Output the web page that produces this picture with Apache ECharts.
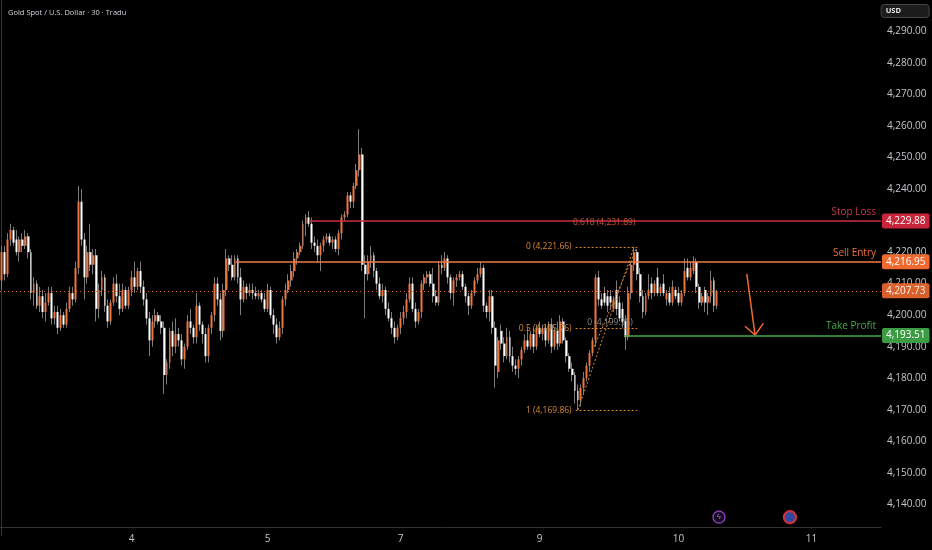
<!DOCTYPE html>
<html>
<head>
<meta charset="utf-8">
<title>Gold Spot / U.S. Dollar · 30 · Tradu</title>
<script src="https://cdn.jsdelivr.net/npm/echarts@6/dist/echarts.min.js"></script>
<style>
  html, body { margin: 0; padding: 0; background: #000; }
  #chart { width: 932px; height: 550px; }
</style>
</head>
<body>
<div id="chart"></div>
<script>
var FONT = '"Open Sans", "Liberation Sans", sans-serif';

// horizontal slots (one per 30 min bar, incl. empty space on the right)
var SLOTS = 298;
var priceMin = 4130, priceMax = 4300, priceStep = 10;

var dayTickSlots = [44, 90, 135, 182, 229, 274];
var dayTickLabels = ['4', '5', '7', '9', '10', '11'];

// candles: [open, close, low, high]
var session3 = [
	[4211,4220,4208,4222],[4220,4213,4211,4222],[4213,4224,4212,4226],[4224,4227,4222,4229],
	[4227,4223,4222,4228],[4224,4220,4219,4227],[4220,4224,4217,4225],[4224,4222,4220,4226],
	[4222,4225,4221,4227],[4225,4220,4218,4226],[4220,4207,4205,4221],[4207,4210,4203,4212],
	[4210,4203,4202,4211],[4203,4206,4201,4209],[4206,4201,4199,4208],[4201,4204,4198,4207],
	[4204,4207,4203,4209],[4207,4199,4197,4209],[4199,4201,4197,4203],[4201,4196,4194,4203],
	[4196,4200,4195,4202],[4200,4197,4196,4201],[4197,4202,4196,4204],[4202,4207,4201,4209],
	[4207,4205,4203,4209],[4205,4215,4204,4217],[4215,4236,4213,4241],[4236,4224,4222,4240],
	[4224,4212,4205,4226],[4212,4220,4210,4222],[4220,4216,4214,4229],[4216,4219,4213,4221],
	[4219,4202,4198,4221],[4202,4208,4199,4210],[4208,4212,4206,4214],[4212,4203,4201,4213],
	[4203,4198,4196,4205],[4198,4204,4197,4205],[4204,4210,4203,4212],[4210,4206,4204,4213],
	[4206,4202,4200,4210],[4202,4208,4201,4210],[4208,4203,4202,4209],[4203,4208,4202,4209]
];
var session4 = [
	[4208,4212,4206,4214],[4212,4209,4207,4217],[4209,4214,4208,4215],[4214,4209,4207,4217],
	[4209,4205,4203,4211],[4205,4199,4197,4207],[4199,4192,4187,4201],[4192,4198,4190,4200],
	[4198,4200,4196,4202],[4200,4198,4197,4201],[4198,4196,4194,4200],[4196,4181,4175,4198],
	[4181,4185,4178,4186],[4185,4195,4183,4196],[4195,4190,4187,4198],[4190,4194,4188,4199],
	[4194,4192,4190,4196],[4192,4186,4184,4194],[4186,4190,4183,4191],[4190,4198,4189,4200],
	[4198,4196,4194,4202],[4196,4193,4191,4197],[4193,4203,4191,4207],[4203,4197,4195,4204],
	[4197,4194,4191,4198],[4194,4187,4185,4196],[4187,4196,4185,4197],[4196,4200,4194,4201],
	[4200,4210,4198,4212],[4210,4205,4203,4212],[4205,4195,4192,4207],[4195,4208,4193,4210],
	[4208,4218,4206,4221],[4218,4216,4214,4219],[4216,4212,4211,4219],[4212,4218,4211,4219],
	[4218,4212,4210,4219],[4212,4205,4200,4215],[4205,4209,4204,4211],[4209,4207,4205,4210],
	[4207,4208,4206,4210],[4208,4207,4205,4210],[4207,4206,4205,4209],[4206,4207,4205,4208],
	[4207,4205,4204,4208],[4205,4202,4201,4207]
];
var session5 = [
	[4202,4208,4201,4210],[4208,4200,4199,4209],[4200,4197,4194,4202],[4197,4193,4191,4199],
	[4193,4196,4192,4198],[4196,4205,4194,4206],[4205,4208,4203,4210],[4208,4211,4207,4213],
	[4211,4214,4209,4216],[4214,4218,4212,4220],[4218,4220,4216,4221],[4220,4222,4219,4223],
	[4222,4229,4221,4230],[4229,4231,4225,4232],[4231,4229,4228,4233],[4229,4223,4221,4231],
	[4223,4222,4220,4225],[4222,4219,4217,4224],[4219,4222,4214,4223],[4222,4224,4220,4225],
	[4224,4225,4223,4226],[4225,4223,4222,4226],[4223,4224,4221,4225],[4224,4221,4220,4225],
	[4221,4226,4219,4227],[4226,4231,4224,4232],[4231,4232,4230,4233],[4232,4238,4231,4239],
	[4238,4236,4234,4239],[4236,4241,4234,4242],[4241,4246,4240,4248],[4246,4251,4244,4259],
	[4251,4216,4214,4253],[4216,4213,4199,4219],[4213,4217,4211,4219],[4217,4219,4215,4222],
	[4219,4214,4212,4220],[4214,4210,4208,4215],[4210,4206,4205,4212],[4206,4208,4204,4210],
	[4208,4202,4200,4209],[4202,4199,4198,4204],[4199,4196,4194,4201],[4196,4193,4191,4198],
	[4193,4196,4192,4197]
];
var session7 = [
	[4196,4199,4194,4201],[4199,4201,4197,4203],[4201,4205,4199,4207],[4205,4210,4204,4212],
	[4210,4202,4201,4212],[4202,4198,4196,4204],[4198,4201,4197,4202],[4201,4210,4199,4211],
	[4210,4212,4208,4213],[4212,4213,4210,4214],[4213,4210,4209,4214],[4210,4206,4204,4215],
	[4206,4204,4203,4208],[4204,4216,4203,4217],[4216,4215,4213,4219],[4215,4218,4214,4220],
	[4218,4212,4210,4219],[4212,4207,4205,4213],[4207,4211,4203,4212],[4211,4212,4209,4213],
	[4212,4213,4211,4214],[4213,4209,4208,4214],[4209,4206,4204,4210],[4206,4203,4200,4207],
	[4203,4207,4202,4208],[4207,4211,4206,4212],[4211,4213,4210,4215],[4213,4215,4212,4217],
	[4215,4203,4201,4216],[4203,4201,4199,4204],[4201,4206,4198,4208],[4206,4196,4194,4208],
	[4196,4184,4177,4198],[4182,4192,4180,4193],[4195,4191,4189,4197],[4191,4187,4185,4193],
	[4187,4193,4186,4196],[4193,4187,4185,4195],[4187,4184,4182,4190],[4184,4183,4181,4186],
	[4183,4186,4180,4187],[4186,4189,4184,4190],[4189,4192,4188,4194],[4192,4190,4189,4196],
	[4190,4194,4189,4195],[4194,4190,4188,4196],[4190,4196,4189,4197]
];
var session9 = [
	[4196,4194,4193,4198],[4194,4196,4192,4197],[4196,4192,4190,4197],[4192,4197,4191,4198],
	[4197,4190,4188,4199],[4190,4195,4189,4196],[4195,4191,4189,4198],[4191,4198,4190,4200],
	[4198,4192,4191,4199],[4192,4187,4185,4193],[4187,4183,4182,4188],[4183,4181,4179,4185],
	[4181,4176,4172,4182],[4176,4173,4169.86,4178],[4173,4177,4171,4178],[4177,4180,4175,4182],
	[4180,4184,4179,4185],[4184,4188,4182,4189],[4188,4192,4187,4193],[4192,4212,4190,4213],
	[4212,4205,4203,4214],[4205,4203,4202,4207],[4207,4204,4203,4209],[4206,4203,4201,4208],
	[4206,4204,4202,4208],[4202,4205,4201,4206],[4208,4202,4200,4211],[4204,4199,4198,4206],
	[4202,4198,4196,4204],[4198,4193,4189,4200],[4193,4207,4192,4209],[4207,4216,4205,4217],
	[4216,4220,4214,4221.66],[4220,4213,4211,4221],[4213,4206,4204,4215],[4206,4201,4199,4208],
	[4201,4206,4200,4207],[4206,4208,4205,4213],[4210,4207,4205,4212],[4207,4210,4206,4211],
	[4212,4207,4206,4215],[4207,4209,4206,4210],[4210,4207,4206,4213],[4205,4207,4203,4208],
	[4207,4204,4203,4209],[4204,4209,4203,4211],[4208,4206,4205,4209]
];
var session10 = [
	[4207,4204,4203,4209],[4204,4207,4203,4208],[4207,4214,4206,4218],[4215,4212,4211,4218],
	[4212,4215,4211,4217],[4214,4217,4213,4218.6],[4217,4209,4207,4218],[4209,4204,4202,4210],
	[4204,4206,4203,4207],[4208,4204,4201,4209],[4204,4206,4200,4207],[4206,4211,4204,4214],
	[4211,4203,4201,4212],[4203,4207.73,4202,4208]
];

// trade levels and where their lines start
var stopLoss = 4229.88, sellEntry = 4216.95, lastPrice = 4207.73, takeProfit = 4193.51;
var stopLossFrom = 104, sellEntryFrom = 79.3, takeProfitFrom = 210.9;

// fib retracement drawing
var fibFrom = 194.2, fibTo = 215;
var fibLevels = [4221.66, 4195.76, 4169.86];
var fibTexts = ['0 (4,221.66)', '0.5 (4,195.76)', '1 (4,169.86)'];
var fibLow = [195, 4169.86], fibHigh = [214, 4221.66];
var fibInner = [200.5, 4190];

// arrow pointing down to take profit
var arrowTail = [252.1, 4213.1], arrowTip = [254.9, 4193.7];
var arrowLeft = [251.5, 4196.5], arrowRight = [257.7, 4197.4];

// event markers near the bottom
var eventSlots = [242.7, 266.7], eventPrice = 4135.9;

var candles = [].concat(session3, session4, session5, session7, session9, session10);

function money( v ) {
	var s = v.toFixed( 2 ).split( '.' );
	return s[0].replace( /\B(?=(\d{3})+(?!\d))/g, ',' ) + '.' + s[1];
}

function tag( bg ) {
	return {
		show: true, position: 'end', distance: 1,
		formatter: function ( p ) { return money( p.value ); },
		color: '#ffffff', backgroundColor: bg, borderRadius: 2,
		padding: [3, 4, 2, 4], fontSize: 10, fontFamily: FONT
	};
}

function caption( text, color ) {
	return { show: true, position: 'insideEndTop', distance: [5, 4], formatter: text, color: color, fontSize: 10, fontFamily: FONT };
}

// wicks are drawn as a separate gray layer under the bodies
var wickData = candles.map( function ( c, i ) { return [i, c[0], c[0], c[2], c[3]]; } );
var bodyData = candles.map( function ( c, i ) {
	return [i, c[0], c[1], Math.min( c[0], c[1] ), Math.max( c[0], c[1] )];
} );

var fibOrange = '#d9892f';
var hidden = { color: 'rgba(0,0,0,0)', width: 0.1, type: 'solid' };
var lines = [
	// stop loss / entry / take profit segments with captions
	[{ coord: [stopLossFrom, stopLoss], lineStyle: { color: '#cf2c42', width: 1.5, type: 'solid' }, label: caption( 'Stop Loss', '#c83a4e' ) },
	 { coord: [SLOTS - 0.5, stopLoss] }],
	[{ coord: [sellEntryFrom, sellEntry], lineStyle: { color: '#f07848', width: 1.5, type: 'solid' }, label: caption( 'Sell Entry', '#ec7040' ) },
	 { coord: [SLOTS - 0.5, sellEntry] }],
	[{ coord: [takeProfitFrom, takeProfit], lineStyle: { color: '#43a64b', width: 1.5, type: 'solid' }, label: caption( 'Take Profit', '#46a84e' ) },
	 { coord: [SLOTS - 0.5, takeProfit] }],
	// last price dotted line
	{ yAxis: lastPrice, lineStyle: { color: '#e8703a', width: 1, type: [1, 3], opacity: 0.9 }, label: tag( '#f06a30' ) },
	// price tags on the scale
	{ yAxis: stopLoss, lineStyle: hidden, label: tag( '#c8243a' ) },
	{ yAxis: sellEntry, lineStyle: hidden, label: tag( '#f06a30' ) },
	{ yAxis: takeProfit, lineStyle: hidden, label: tag( '#3c9c44' ) },
	// fib diagonals
	[{ coord: fibLow, lineStyle: { color: fibOrange, width: 1, type: [2, 2] } }, { coord: fibHigh }],
	[{ coord: fibInner, lineStyle: { color: fibOrange, width: 1, type: [2, 2] } }, { coord: [fibTo, fibHigh[1]] }],
	// arrow
	[{ coord: arrowTail, lineStyle: { color: '#f06a30', width: 1.5, type: 'solid' } }, { coord: arrowTip }],
	[{ coord: arrowLeft, lineStyle: { color: '#f06a30', width: 1.5, type: 'solid' } }, { coord: arrowTip }],
	[{ coord: arrowRight, lineStyle: { color: '#f06a30', width: 1.5, type: 'solid' } }, { coord: arrowTip }]
];
fibLevels.forEach( function ( v, k ) {
	lines.push( [
		{ coord: [fibFrom, v], lineStyle: { color: fibOrange, width: 1, type: [2, 2] },
		  label: { show: true, position: 'start', distance: 4, formatter: fibTexts[k], color: fibOrange, fontSize: 8.5, fontFamily: FONT } },
		{ coord: [fibTo, v] }
	] );
} );

var points = [
	{ coord: [193.3, 4229.4], symbol: 'circle', symbolSize: 0,
	  label: { show: true, position: 'right', distance: 0, formatter: '0.618 (4,231.89)', color: '#c8553a', fontSize: 8.5, fontFamily: FONT } },
	{ coord: [198.1, 4197.7], symbol: 'circle', symbolSize: 0,
	  label: { show: true, position: 'right', distance: 0, formatter: '0 (4,199.95)', color: '#8a8a8a', fontSize: 8.5, fontFamily: FONT } },
	{ coord: [eventSlots[0], eventPrice], symbol: 'circle', symbolSize: 12,
	  itemStyle: { color: '#160a20', borderColor: '#9b45cf', borderWidth: 1.2 },
	  label: { show: true, position: 'inside', formatter: 'ϟ', color: '#b567e6', fontSize: 8 } },
	{ coord: [eventSlots[1], eventPrice], symbol: 'circle', symbolSize: 12,
	  itemStyle: { color: '#2c4aa0', borderColor: '#d32f3f', borderWidth: 2.2 },
	  label: { show: false } }
];

var chart = echarts.init( document.getElementById( 'chart' ), null, { renderer: 'canvas' } );
chart.setOption( {
	backgroundColor: '#000000',
	animation: false,
	title: [
		{ text: 'Gold Spot / U.S. Dollar · 30 · Tradu', left: 3, top: 4,
		  textStyle: { color: '#d1d4dc', fontSize: 7.5, fontWeight: 'normal', fontFamily: FONT } },
		{ text: 'USD', right: 3, top: 4, backgroundColor: '#1c1c1c', borderColor: '#454545', borderWidth: 1, borderRadius: 3,
		  padding: [3, 28, 3, 5], textStyle: { color: '#e6e6e6', fontSize: 7.5, fontWeight: 'bold', fontFamily: FONT } }
	],
	grid: { left: 0, right: 51, top: -4.48, bottom: 14.22 },
	xAxis: {
		type: 'value', min: -0.5, max: SLOTS - 0.5, offset: -9,
		axisLine: { show: true, lineStyle: { color: '#333333' } },
		axisTick: { show: false },
		splitLine: { show: false },
		axisLabel: {
			customValues: dayTickSlots, margin: 7, color: '#c3c6cc', fontSize: 10, fontFamily: FONT,
			formatter: function ( v ) { var k = dayTickSlots.indexOf( v ); return k < 0 ? '' : dayTickLabels[k]; }
		}
	},
	yAxis: {
		type: 'value', position: 'right', min: priceMin, max: priceMax, interval: priceStep,
		axisLine: { show: true, lineStyle: { color: '#333333' } },
		axisTick: { show: false },
		splitLine: { show: false },
		axisLabel: {
			margin: 6, color: '#c3c6cc', fontSize: 10, fontFamily: FONT,
			formatter: function ( v ) { return ( v < 4140 || v > 4290 ) ? '' : money( v ); }
		}
	},
	series: [
		{
			name: 'Wicks', type: 'candlestick', data: wickData, barWidth: 1,
			itemStyle: { color: '#7c7c7c', color0: '#7c7c7c', borderColor: '#7c7c7c', borderColor0: '#7c7c7c', borderWidth: 1 }
		},
		{
			name: 'XAUUSD', type: 'candlestick', data: bodyData, barWidth: 2.4,
			itemStyle: { color: '#ee7440', color0: '#ffffff', borderColor: '#ee7440', borderColor0: '#ffffff', borderWidth: 0 },
			markLine: { silent: true, symbol: ['none', 'none'], animation: false, label: { show: false }, data: lines },
			markPoint: { silent: true, animation: false, data: points }
		}
	]
} );
</script>
</body>
</html>
